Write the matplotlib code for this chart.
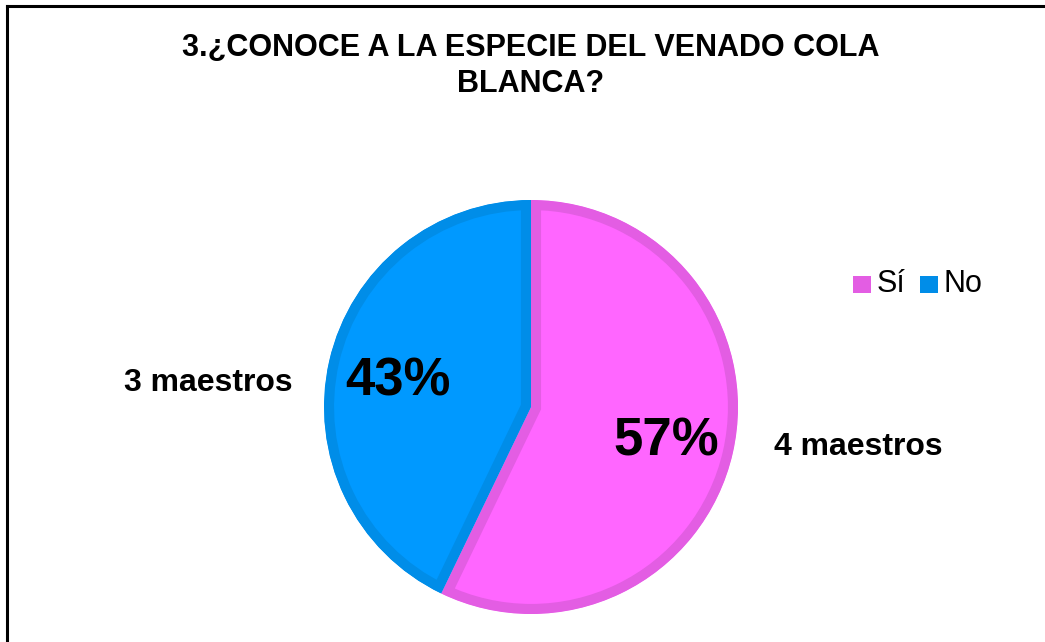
import matplotlib
matplotlib.use("Agg")
import matplotlib.pyplot as plt
from matplotlib.patches import Rectangle
from matplotlib.lines import Line2D

plt.rcParams['font.family'] = ['Liberation Sans', 'DejaVu Sans']

categories = ["Sí", "No"]
values = [4, 3]
count_labels = ["4 maestros", "3 maestros"]
title = "3.¿CONOCE A LA ESPECIE DEL VENADO COLA\nBLANCA?"
fill_colors = ["#FF66FF", "#0099FF"]
edge_colors = ["#E35DE3", "#008DE8"]

W, H = 1045, 642
fig = plt.figure(figsize=(W / 100, H / 100), dpi=100)

def fx(x):
    return x / W

def fy(y):
    return 1 - y / H

# outer frame (right and bottom sides lie outside the picture)
fig.lines.append(Line2D([fx(6.5), fx(6.5)], [fy(6), fy(700)], transform=fig.transFigure,
                        color="black", linewidth=2.2, solid_capstyle="projecting"))
fig.lines.append(Line2D([fx(6.5), fx(1100)], [fy(6), fy(6)], transform=fig.transFigure,
                        color="black", linewidth=2.2, solid_capstyle="projecting"))

cx, cy, r = 531, 407, 207
ax = fig.add_axes([fx(cx - r), fy(cy + r), 2 * r / W, 2 * r / H])
wedges, _ = ax.pie(values, colors=fill_colors, startangle=90, counterclock=False,
                   radius=1, wedgeprops=dict(linewidth=0))
for w, ec in zip(wedges, edge_colors):
    w.set_edgecolor(ec)
    w.set_linewidth(14.5)
    w.set_clip_on(True)
    w.set_clip_path(w.get_path(), w.get_transform())
ax.set_xlim(-1, 1)
ax.set_ylim(-1, 1)
ax.axis("off")

total = sum(values)
pcts = [f"{round(v / total * 100)}%" for v in values]

fig.text(fx(531), fy(66), title, ha="center", va="center", fontsize=22,
         fontweight="bold", linespacing=1.25)

# percent labels
fig.text(fx(666), fy(441), pcts[0], ha="center", va="center", fontsize=38, fontweight="bold")
fig.text(fx(398), fy(382), pcts[1], ha="center", va="center", fontsize=38, fontweight="bold")
# count labels
fig.text(fx(858), fy(447), count_labels[0], ha="center", va="center", fontsize=23, fontweight="bold")
fig.text(fx(208), fy(383), count_labels[1], ha="center", va="center", fontsize=23, fontweight="bold")

# legend
sq_x = [853, 920]
txt_x = [877, 944]
for i, cat in enumerate(categories):
    fig.patches.append(Rectangle((fx(sq_x[i]), fy(293)), 18 / W, 17 / H,
                                 transform=fig.transFigure, facecolor=edge_colors[i],
                                 edgecolor="none"))
    fig.text(fx(txt_x[i]), fy(284), cat, ha="left", va="center", fontsize=22)

fig.savefig("out.png", dpi=100)
